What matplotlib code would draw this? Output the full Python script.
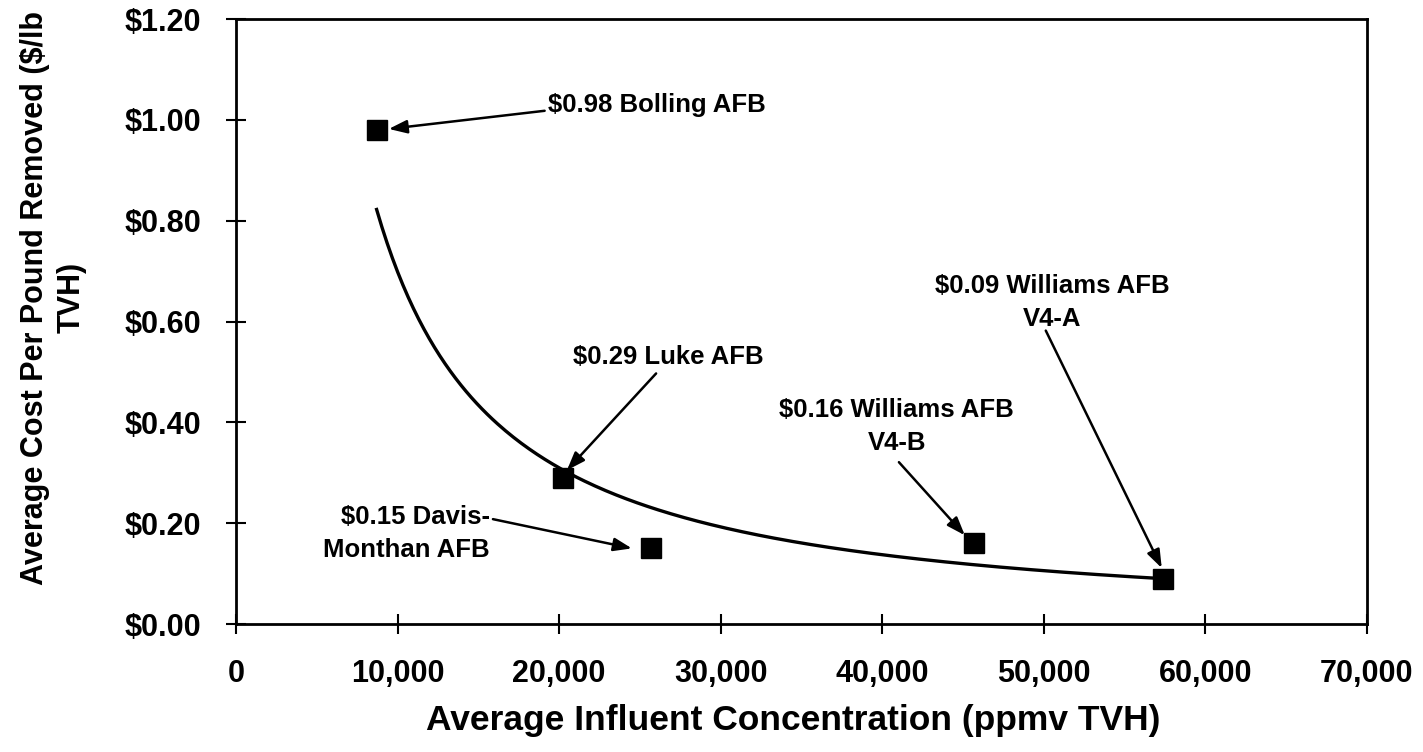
import numpy as np
import matplotlib
matplotlib.use("Agg")
import matplotlib.pyplot as plt
from matplotlib.ticker import FuncFormatter

# Data
sites = ["Bolling AFB", "Luke AFB", "Davis-Monthan AFB", "Williams AFB V4-B", "Williams AFB V4-A"]
concentration = [8700, 20240, 25680, 45670, 57400]
cost = [0.98, 0.29, 0.15, 0.16, 0.09]
labels = ["$0.98 Bolling AFB", "$0.29 Luke AFB", "$0.15 Davis-\nMonthan AFB",
          "$0.16 Williams AFB\nV4-B", "$0.09 Williams AFB\nV4-A"]
x_ticks = [0, 10000, 20000, 30000, 40000, 50000, 60000, 70000]
y_ticks = [0.0, 0.2, 0.4, 0.6, 0.8, 1.0, 1.2]

plt.rcParams['font.family'] = ['Liberation Sans', 'DejaVu Sans']
plt.rcParams['font.weight'] = 'bold'

fig = plt.figure(figsize=(14.23, 7.52), dpi=100)
ax = fig.add_axes([0.1659, 0.1702, 0.7947, 0.8045])

# Power trend line fitted to the data (as in Excel's power trendline)
b, ln_a = np.polyfit(np.log(concentration), np.log(cost), 1)
xs = np.linspace(min(concentration), max(concentration), 300)
ax.plot(xs, np.exp(ln_a) * xs ** b, color='black', lw=2.4, zorder=2)

ax.plot(concentration, cost, linestyle='none', marker='s', markersize=14,
        color='black', zorder=3)

# Annotations: (text position, text alignment, arrow start, arrow end)
ann = [
    dict(txt=(19300, 1.03), ha='left', start=(19100, 1.018), end=(9450, 0.982)),
    dict(txt=(26730, 0.529), ha='center', start=(26000, 0.497), end=(20480, 0.305)),
    dict(txt=(15720, 0.180), ha='right', start=(15900, 0.208), end=(24500, 0.150)),
    dict(txt=(40900, 0.392), ha='center', start=(41030, 0.321), end=(45110, 0.176)),
    dict(txt=(50500, 0.638), ha='center', start=(50120, 0.582), end=(57300, 0.111)),
]
for lab, a in zip(labels, ann):
    ax.text(a['txt'][0], a['txt'][1], lab, ha=a['ha'], va='center',
            multialignment=a['ha'], fontsize=18.5, fontweight='bold',
            linespacing=1.45)
    ax.annotate('', xy=a['end'], xytext=a['start'],
                arrowprops=dict(arrowstyle='-|>,head_length=1.1,head_width=0.4',
                                color='black', lw=1.8, shrinkA=0, shrinkB=0))

ax.set_xlim(0, 70000)
ax.set_ylim(0, 1.2)
ax.set_xticks(x_ticks)
ax.set_yticks(y_ticks)
ax.xaxis.set_major_formatter(FuncFormatter(lambda v, p: f"{int(v):,}"))
ax.yaxis.set_major_formatter(FuncFormatter(lambda v, p: f"${v:.2f}"))
ax.tick_params(axis='both', direction='inout', length=14, width=1.5,
               labelsize=22, pad=18)
for lbl in ax.get_xticklabels() + ax.get_yticklabels():
    lbl.set_fontweight('bold')
for s in ax.spines.values():
    s.set_linewidth(2)

ax.set_xlabel("Average Influent Concentration (ppmv TVH)", fontsize=25.5,
              fontweight='bold', labelpad=11)
ax.xaxis.label.set_x(0.493)
fig.text(0.0375, 0.604, "Average Cost Per Pound Removed ($/lb\nTVH)",
         rotation=90, ha='center', va='center', multialignment='center',
         fontsize=22, fontweight='bold', linespacing=1.25)

fig.savefig("out.png", dpi=100)
